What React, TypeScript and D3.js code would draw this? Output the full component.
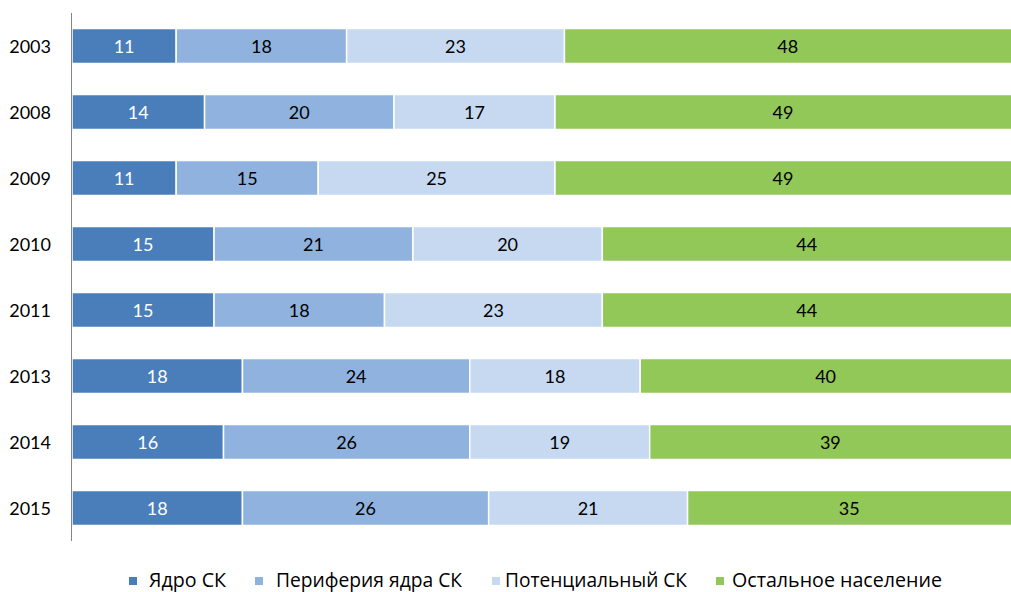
import React from "react";
import * as d3 from "d3";

const years = ["2003", "2008", "2009", "2010", "2011", "2013", "2014", "2015"];
const seriesNames = ["Ядро СК", "Периферия ядра СК", "Потенциальный СК", "Остальное население"];
const core = [11, 14, 11, 15, 15, 18, 16, 18];
const periphery = [18, 20, 15, 21, 18, 24, 26, 26];
const potential = [23, 17, 25, 20, 23, 18, 19, 21];
const rest = [48, 49, 49, 44, 44, 40, 39, 35];
const colors = ["#4A7EBB", "#8FB3DE", "#C6D9F0", "#92C857"];
const labelColors = ["#FFFFFF", "#000000", "#000000", "#000000"];

const W = 1011;
const H = 592;
const FONT = "Lato, 'Open Sans', sans-serif";
const LEGEND_FONT = "'Open Sans', 'Noto Sans', sans-serif";

export default function App() {
  const seriesVals = [core, periphery, potential, rest];
  const x = d3.scaleLinear().domain([0, 100]).range([72, 1019]);
  const y = d3.scaleBand<string>().domain(years).range([13, 541]).paddingInner(0.47).paddingOuter(0.235);

  const rows = years.map((yr, i) => {
    let acc = 0;
    return seriesVals.map((s, k) => {
      const v = s[i];
      const seg = { k, v, x0: acc, x1: acc + v, yr };
      acc += v;
      return seg;
    });
  });

  const legendSq = [129, 255, 492, 716];
  const legendTextX = [149, 276, 505, 732];
  const legendTextW = [77, 186, 182, 210];

  return (
    <svg width={W} height={H} style={{ position: "absolute", left: 0, top: 0, background: "#fff" }} fontFamily={FONT}>
      <rect x={0} y={0} width={W} height={H} fill="#fff" />
      {rows.map((segs, i) => (
        <g key={years[i]}>
          {segs.map((s) => (
            <rect
              key={s.k}
              x={x(s.x0)}
              y={y(s.yr)!}
              width={x(s.x1) - x(s.x0)}
              height={y.bandwidth()}
              fill={colors[s.k]}
              stroke="#fff"
              strokeWidth={1.5}
            />
          ))}
          {segs.map((s) => (
            <text
              key={"t" + s.k}
              x={(x(s.x0) + Math.min(x(s.x1), W)) / 2}
              y={y(s.yr)! + y.bandwidth() / 2 + 6.5}
              textAnchor="middle"
              fontSize={18}
              fill={labelColors[s.k]}
            >
              {s.v}
            </text>
          ))}
          <text x={51} y={y(years[i])! + y.bandwidth() / 2 + 6.5} textAnchor="end" fontSize={18} fill="#000">
            {years[i]}
          </text>
        </g>
      ))}
      <line x1={71.5} x2={71.5} y1={13} y2={541} stroke="#868686" strokeWidth={1} />
      {seriesNames.map((n, k) => (
        <g key={n}>
          <rect x={legendSq[k]} y={577} width={8} height={8} fill={colors[k]} />
          <text
            x={legendTextX[k]}
            y={587}
            fontSize={19.5}
            fontFamily={LEGEND_FONT}
            fill="#000"
            textLength={legendTextW[k]}
            lengthAdjust="spacingAndGlyphs"
          >
            {n}
          </text>
        </g>
      ))}
    </svg>
  );
}
